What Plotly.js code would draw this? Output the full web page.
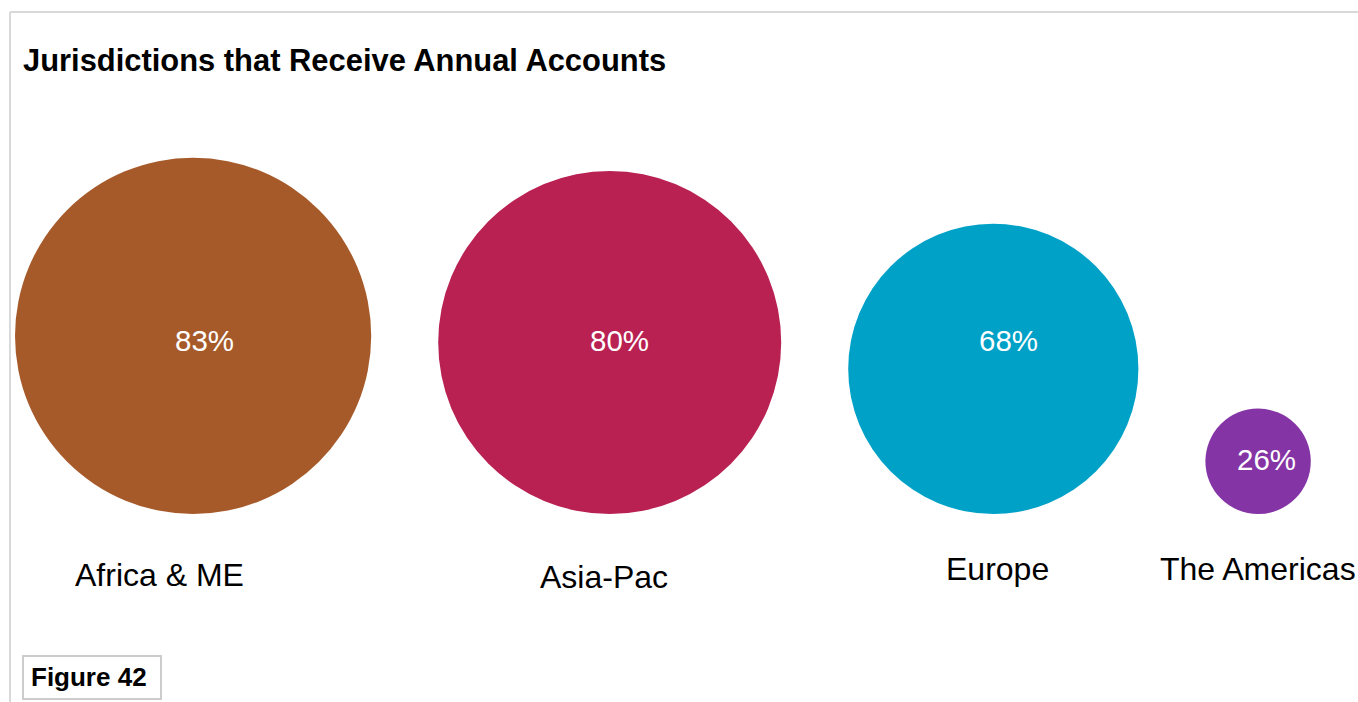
<!DOCTYPE html>
<html><head><meta charset="utf-8">
<script src="https://cdn.plot.ly/plotly-3.0.1.min.js"></script>
<style>html,body{margin:0;padding:0;background:#fff;overflow:hidden}#chart{width:1358px;height:702px}</style>
</head><body><div id="chart"></div>
<script>
// Data
const regions = ["Africa & ME", "Asia-Pac", "Europe", "The Americas"];
const shares = [83, 80, 68, 26];
const colors = ["#A65A2A", "#B92153", "#00A1C7", "#8534A5"];
const chartTitle = "Jurisdictions that Receive Annual Accounts";
const figureLabel = "Figure 42";

// Layout constants (pixel coordinate system)
const W = 1358, H = 702;
const pxPerPoint = 4.4, pxOffset = -9;   // diameter = offset + per-point * value
const startX = 15, gap = 67, baseY = 514, pctRowY = 340;
const pctShiftX = [11, 10, 15, 8];
const nameShiftX = [-34, -6, 4, 0];
const nameY = [575, 577, 569, 569];

const diam = shares.map(v => pxOffset + v * pxPerPoint);
const cx = [], cy = [], r = [];
let cursor = startX;
diam.forEach((d, i) => {
  const rad = d / 2;
  r.push(rad);
  cx.push(cursor + rad);
  cy.push(baseY - rad);
  cursor += d + gap;
});

const font = "Liberation Sans, Arial, Helvetica, sans-serif";

const trace = {
  type: "scatter", mode: "markers",
  x: cx, y: cy,
  marker: {size: diam, sizemode: "diameter", sizeref: 1, color: colors, opacity: 1, line: {width: 0}},
  hoverinfo: "text", text: regions.map((n, i) => n + ": " + shares[i] + "%"),
  showlegend: false
};

const annotations = [];
shares.forEach((v, i) => {
  const inRow = (cy[i] - r[i] < pctRowY - 25) && (cy[i] + r[i] > pctRowY + 25);
  annotations.push({x: cx[i], y: inRow ? pctRowY : cy[i] - 2, xref: "x", yref: "y", xshift: pctShiftX[i],
    text: v + "%", showarrow: false, font: {family: font, size: 29.5, color: "#ffffff"}});
  annotations.push({x: cx[i], y: nameY[i], xref: "x", yref: "y", xshift: nameShiftX[i],
    text: regions[i], showarrow: false, font: {family: font, size: 32, color: "#000000"}});
});
annotations.push({x: 21, y: 60, xref: "x", yref: "y", xanchor: "left", text: "<b>" + chartTitle + "</b>",
  showarrow: false, font: {family: font, size: 30.9, color: "#000"}});
annotations.push({x: 29, y: 677, xref: "x", yref: "y", xanchor: "left", text: "<b>" + figureLabel + "</b>",
  showarrow: false, font: {family: font, size: 26, color: "#000"}});

const shapes = [
  {type: "line", xref: "x", yref: "y", x0: 10, x1: W, y0: 12, y1: 12, line: {color: "#d9d9d9", width: 2}},
  {type: "line", xref: "x", yref: "y", x0: 10, x1: 10, y0: 12, y1: H, line: {color: "#d9d9d9", width: 2}},
  {type: "rect", xref: "x", yref: "y", x0: 23, x1: 161, y0: 656, y1: 699, line: {color: "#cccccc", width: 2}, fillcolor: "#fff"}
];

const layout = {
  width: W, height: H,
  margin: {l: 0, r: 0, t: 0, b: 0},
  paper_bgcolor: "#fff", plot_bgcolor: "#fff",
  xaxis: {range: [0, W], visible: false, fixedrange: true},
  yaxis: {range: [H, 0], visible: false, fixedrange: true},
  annotations: annotations, shapes: shapes,
  showlegend: false
};
Plotly.newPlot("chart", [trace], layout, {displayModeBar: false, staticPlot: true});
</script></body></html>
